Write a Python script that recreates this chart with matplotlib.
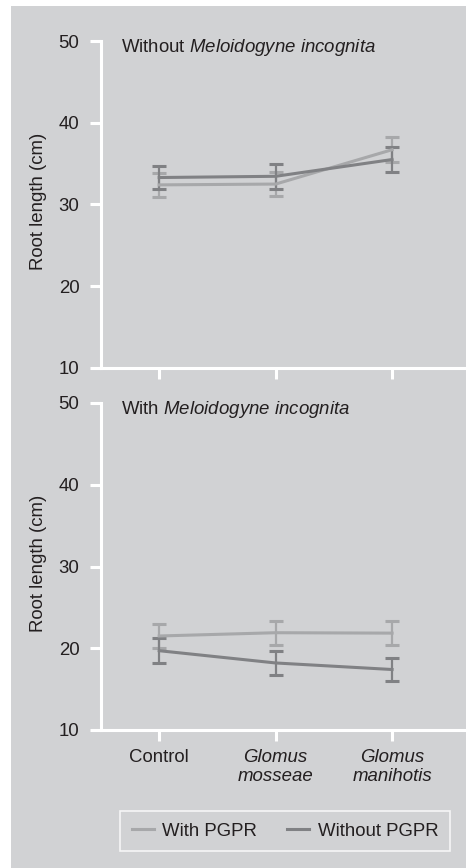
import numpy as np
import matplotlib
matplotlib.use('Agg')
import matplotlib.pyplot as plt
from matplotlib.patches import Rectangle
from matplotlib.lines import Line2D

plt.rcParams['font.family'] = ['Liberation Sans', 'DejaVu Sans']
plt.rcParams['mathtext.fontset'] = 'custom'
plt.rcParams['mathtext.rm'] = 'Liberation Sans'
plt.rcParams['mathtext.it'] = 'Liberation Sans:italic'

# data
categories = ['Control', 'Glomus\nmosseae', 'Glomus\nmanihotis']

# without Meloidogyne incognita
top_with = [32.4, 32.5, 36.7]
top_with_err = [1.45, 1.5, 1.5]
top_without = [33.3, 33.45, 35.5]
top_without_err = [1.4, 1.5, 1.5]

# with Meloidogyne incognita
bot_with = [21.5, 21.9, 21.85]
bot_with_err = [1.45, 1.45, 1.5]
bot_without = [19.7, 18.2, 17.4]
bot_without_err = [1.5, 1.45, 1.45]

yticks = [10, 20, 30, 40, 50]

bg = '#d1d2d4'
light = '#a7a8aa'
dark = '#808184'
txt = '#231f20'
fs = 13.4

W, H = 466, 868
fig = plt.figure(figsize=(W / 100, H / 100), dpi=100)
fig.patch.set_facecolor('white')
# grey panel behind everything
fig.patches.append(Rectangle((11 / W, 0), 1, 1 - 6 / H, transform=fig.transFigure,
                             facecolor=bg, edgecolor='none', zorder=-10))

x = np.arange(len(categories))


def make_panel(rect, with_vals, with_err, without_vals, without_err, title, show_labels):
    ax = fig.add_axes(rect)
    ax.set_facecolor('none')
    ax.set_xlim(-0.5, 2.635)
    ax.set_ylim(10, 50)
    for s in ['top', 'right']:
        ax.spines[s].set_visible(False)
    for s in ['left', 'bottom']:
        ax.spines[s].set_color('white')
        ax.spines[s].set_linewidth(2.2)
    ax.set_yticks(yticks)
    ax.set_xticks(x)
    ax.tick_params(axis='both', colors='white', width=2.2, length=8, pad=7.5,
                   labelcolor=txt, labelsize=fs)
    if show_labels:
        ax.set_xticklabels(categories, linespacing=1.15)
        for lab in ax.get_xticklabels()[1:]:
            lab.set_fontstyle('italic')
        ax.tick_params(axis='x', pad=6)
    else:
        ax.set_xticklabels([])

    ax.errorbar(x, with_vals, yerr=with_err, color=light, lw=2.2, elinewidth=1.6,
                capsize=5, capthick=2.2, zorder=3)
    ax.errorbar(x, without_vals, yerr=without_err, color=dark, lw=2.2, elinewidth=1.6,
                capsize=5, capthick=2.2, zorder=3)

    ax.text(0.055, 0.979, title, transform=ax.transAxes, ha='left', va='center',
            fontsize=fs, color=txt)
    ax.set_ylabel('Root length (cm)', fontsize=fs, color=txt)
    ax.yaxis.set_label_coords(-0.148, 0.51)
    return ax


left = 101 / W
width = (W - 101) / W
h = (368 - 41) / H
make_panel([left, 1 - 368 / H, width, h], top_with, top_with_err,
           top_without, top_without_err,
           r'Without $\mathit{Meloidogyne\ incognita}$', False)
make_panel([left, 1 - 730 / H, width, h], bot_with, bot_with_err,
           bot_without, bot_without_err,
           r'With $\mathit{Meloidogyne\ incognita}$', True)

handles = [Line2D([], [], color=light, lw=2.2), Line2D([], [], color=dark, lw=2.2)]
leg = fig.legend(handles, ['With PGPR', 'Without PGPR'], loc='center',
                 bbox_to_anchor=(285 / W, 1 - 831 / H), ncol=2, fontsize=fs,
                 frameon=True, fancybox=False, handlelength=1.2, handletextpad=0.45,
                 columnspacing=1.6, borderpad=0.6, labelcolor=txt)
leg.get_frame().set_facecolor('none')
leg.get_frame().set_edgecolor('white')
leg.get_frame().set_linewidth(1.2)

fig.savefig('out.png', dpi=100, facecolor=fig.get_facecolor())
